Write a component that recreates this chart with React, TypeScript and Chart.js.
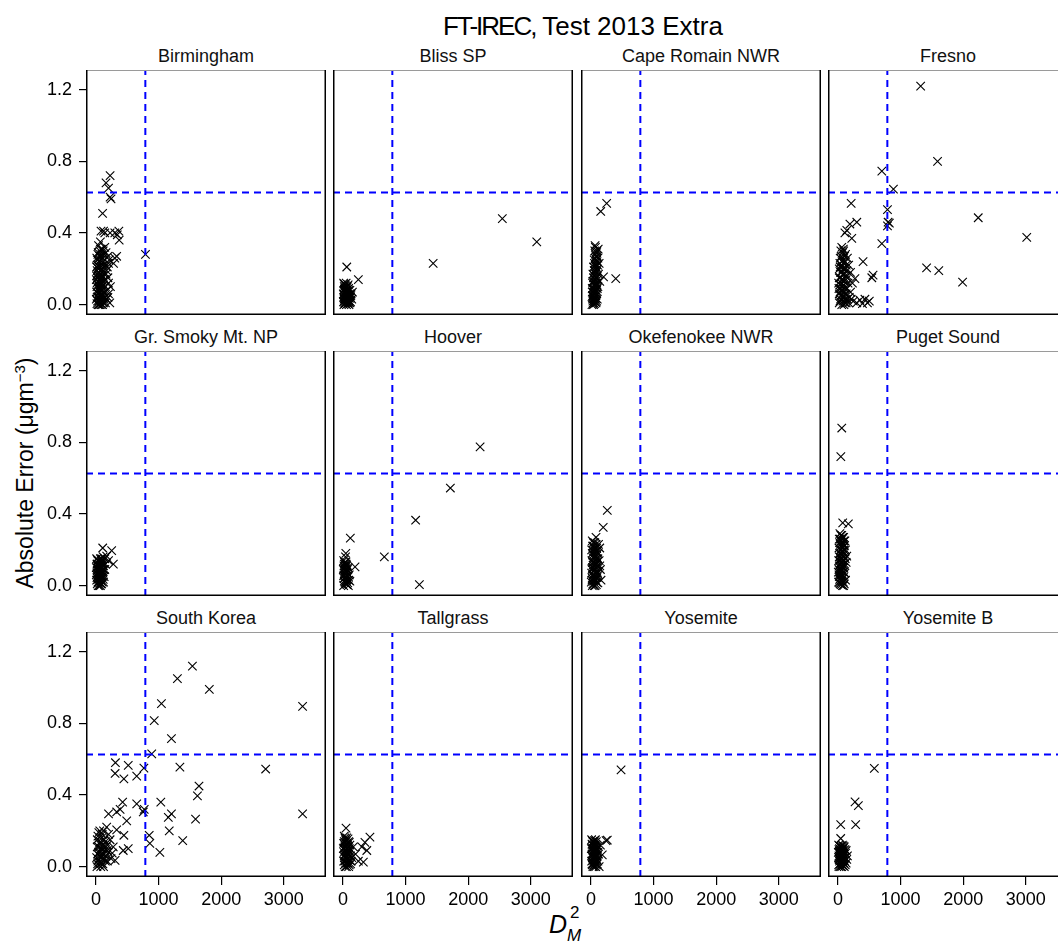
import React, { useEffect, useRef } from "react";
import { Chart, registerables } from "chart.js";

Chart.register(...registerables);

type Pt = [number, number];

// ---------------- DATA ----------------
const SITES = [
  "Birmingham", "Bliss SP", "Cape Romain NWR", "Fresno",
  "Gr. Smoky Mt. NP", "Hoover", "Okefenokee NWR", "Puget Sound",
  "South Korea", "Tallgrass", "Yosemite", "Yosemite B",
];

const X_TICKS = [0, 1000, 2000, 3000];
const Y_TICKS = [0, 0.4, 0.8, 1.2];
const X_RANGE = [-160, 3674];
const Y_RANGE = [-0.058, 1.31];
const D2_THRESHOLD = 788;
const ERROR_THRESHOLD = 0.626;

const birmingham: Pt[] = [
  [225, 0.72], [160, 0.68], [200, 0.65], [225, 0.6], [240, 0.59], [105, 0.51],
  [80, 0.41], [140, 0.4], [120, 0.41], [225, 0.4], [300, 0.4], [365, 0.41], [340, 0.39], [370, 0.36],
  [300, 0.26], [330, 0.27], [280, 0.23], [790, 0.28],
  [40, 0.33], [70, 0.35], [60, 0.3], [100, 0.31], [30, 0.28], [80, 0.27], [130, 0.28], [160, 0.29], [190, 0.27], [210, 0.25],
  [20, 0.25], [50, 0.24], [90, 0.23], [120, 0.24], [150, 0.22], [180, 0.21], [200, 0.23],
  [10, 0.21], [40, 0.2], [70, 0.19], [100, 0.2], [130, 0.18], [160, 0.17],
  [20, 0.17], [55, 0.16], [85, 0.15], [110, 0.16], [140, 0.14], [190, 0.15],
  [5, 0.14], [30, 0.13], [60, 0.12], [95, 0.12], [120, 0.11], [150, 0.1],
  [15, 0.1], [45, 0.09], [75, 0.09], [100, 0.08], [130, 0.07], [180, 0.08], [200, 0.06],
  [10, 0.07], [35, 0.06], [60, 0.05], [85, 0.05], [110, 0.04], [140, 0.04], [170, 0.03],
  [5, 0.03], [25, 0.02], [50, 0.02], [70, 0.01], [95, 0.02], [120, 0.01], [220, 0.01],
  [15, 0.005], [40, 0.0], [65, 0.03], [90, 0.06], [30, 0.045], [55, 0.075], [80, 0.11], [25, 0.15],
  [45, 0.18], [65, 0.22], [110, 0.26], [140, 0.32], [15, 0.12], [50, 0.14],
  [170, 0.19], [200, 0.12], [230, 0.1], [190, 0.04],
  [12, 0.26], [35, 0.29], [58, 0.27], [75, 0.31], [95, 0.28], [115, 0.3], [28, 0.22], [48, 0.21],
  [68, 0.25], [88, 0.2], [108, 0.22], [18, 0.19], [38, 0.16], [62, 0.17], [78, 0.14], [98, 0.16],
  [8, 0.16], [28, 0.11], [52, 0.1], [72, 0.13], [92, 0.1], [112, 0.13], [18, 0.04], [42, 0.04],
  [62, 0.07], [82, 0.08], [102, 0.05], [125, 0.03], [32, 0.0], [58, 0.0], [82, 0.0], [105, 0.0], [150, 0.01],
];

const blissSP: Pt[] = [
  [60, 0.21], [245, 0.14], [1440, 0.23], [2545, 0.48], [3095, 0.35],
  [10, 0.12], [30, 0.11], [50, 0.12], [20, 0.1], [40, 0.09], [70, 0.1], [90, 0.09], [15, 0.08],
  [35, 0.07], [55, 0.08], [80, 0.07], [110, 0.08], [130, 0.06], [5, 0.06], [25, 0.05], [45, 0.06],
  [65, 0.05], [95, 0.05], [120, 0.04], [10, 0.04], [30, 0.03], [50, 0.04], [75, 0.03], [100, 0.02],
  [140, 0.03], [20, 0.02], [40, 0.01], [60, 0.02], [85, 0.01], [15, 0.0], [35, 0.005], [55, 0.0],
  [70, 0.015], [110, 0.01], [25, 0.035], [45, 0.025], [65, 0.07], [85, 0.04], [105, 0.06],
  [30, 0.09], [50, 0.055], [8, 0.015], [150, 0.07],
  [18, 0.115], [42, 0.105], [62, 0.095], [82, 0.11], [22, 0.085], [48, 0.075], [68, 0.085], [95, 0.08],
  [12, 0.055], [38, 0.045], [58, 0.065], [78, 0.055], [100, 0.035], [125, 0.05], [18, 0.03], [42, 0.035],
  [62, 0.03], [88, 0.025], [28, 0.01], [48, 0.015], [78, 0.005], [95, 0.0], [120, 0.015],
];

const capeRomain: Pt[] = [
  [250, 0.565], [155, 0.52], [395, 0.145], [200, 0.155],
  [65, 0.33], [115, 0.31], [90, 0.29], [60, 0.3], [80, 0.27], [110, 0.26], [50, 0.25], [95, 0.24],
  [130, 0.23], [70, 0.22], [40, 0.21], [100, 0.2], [60, 0.19], [85, 0.18], [120, 0.17], [30, 0.17],
  [55, 0.16], [75, 0.15], [105, 0.14], [45, 0.13], [90, 0.12], [25, 0.12], [60, 0.11], [80, 0.1],
  [35, 0.09], [100, 0.09], [50, 0.08], [70, 0.07], [20, 0.07], [90, 0.06], [40, 0.05], [60, 0.04],
  [80, 0.035], [25, 0.03], [50, 0.02], [70, 0.015], [35, 0.01], [90, 0.02], [15, 0.0], [55, 0.005],
  [110, 0.1], [140, 0.13], [30, 0.045], [45, 0.065], [65, 0.085],
  [70, 0.32], [95, 0.3], [75, 0.28], [100, 0.27], [65, 0.26], [85, 0.25], [55, 0.23], [105, 0.22],
  [80, 0.21], [50, 0.19], [95, 0.19], [70, 0.17], [40, 0.15], [90, 0.15], [60, 0.14], [30, 0.13],
  [75, 0.12], [45, 0.11], [95, 0.11], [20, 0.09], [65, 0.1], [40, 0.07], [85, 0.08], [55, 0.06],
  [25, 0.05], [75, 0.05], [45, 0.03], [65, 0.03], [30, 0.02], [80, 0.01], [40, 0.0], [100, 0.03],
];

const fresno: Pt[] = [
  [1320, 1.22], [1590, 0.8], [700, 0.745], [885, 0.645], [790, 0.53], [800, 0.46], [820, 0.455],
  [790, 0.44], [700, 0.34], [2240, 0.485], [3015, 0.375], [1415, 0.205], [1610, 0.19], [1990, 0.125],
  [210, 0.565], [300, 0.46], [190, 0.45], [140, 0.415], [110, 0.4], [220, 0.37], [85, 0.31],
  [400, 0.24], [560, 0.165], [540, 0.15], [270, 0.145],
  [245, 0.02], [350, 0.025], [430, 0.03], [500, 0.02], [300, 0.01], [390, 0.005], [470, 0.01],
  [60, 0.32], [90, 0.3], [120, 0.28], [50, 0.27], [150, 0.26], [80, 0.25], [110, 0.24], [30, 0.23],
  [170, 0.22], [60, 0.21], [100, 0.2], [140, 0.19], [200, 0.18], [40, 0.18], [80, 0.17], [120, 0.16],
  [20, 0.15], [60, 0.14], [100, 0.13], [160, 0.12], [30, 0.11], [70, 0.1], [110, 0.09], [50, 0.08],
  [90, 0.07], [20, 0.06], [130, 0.06], [60, 0.05], [100, 0.04], [40, 0.03], [80, 0.02], [150, 0.03],
  [20, 0.01], [60, 0.0], [110, 0.01], [180, 0.04], [200, 0.07], [230, 0.12], [35, 0.21], [15, 0.09],
  [45, 0.3], [75, 0.29], [105, 0.27], [35, 0.26], [65, 0.24], [95, 0.23], [130, 0.22], [50, 0.22],
  [20, 0.2], [80, 0.2], [120, 0.2], [55, 0.18], [100, 0.17], [150, 0.16], [35, 0.15], [80, 0.14],
  [130, 0.14], [50, 0.12], [90, 0.11], [10, 0.12], [40, 0.09], [75, 0.08], [140, 0.09], [30, 0.07],
  [110, 0.06], [45, 0.05], [80, 0.04], [120, 0.03], [30, 0.02], [95, 0.0], [130, 0.01], [170, 0.01], [210, 0.03],
];

const smokyMt: Pt[] = [
  [107, 0.21], [250, 0.195], [277, 0.12], [170, 0.165], [200, 0.14],
  [10, 0.15], [40, 0.14], [70, 0.15], [100, 0.13], [20, 0.12], [55, 0.11], [85, 0.12], [120, 0.11],
  [5, 0.1], [35, 0.09], [65, 0.09], [95, 0.1], [140, 0.09], [15, 0.07], [45, 0.07], [75, 0.06],
  [110, 0.07], [25, 0.05], [55, 0.04], [90, 0.05], [130, 0.05], [10, 0.03], [40, 0.02], [70, 0.03],
  [100, 0.02], [20, 0.01], [50, 0.0], [80, 0.01], [120, 0.02], [30, 0.035], [60, 0.065], [95, 0.085],
  [150, 0.12], [140, 0.15], [115, 0.16], [85, 0.14], [30, 0.11], [60, 0.13], [5, 0.06], [75, 0.105],
  [25, 0.14], [55, 0.13], [90, 0.15], [15, 0.12], [45, 0.12], [75, 0.13], [110, 0.12], [30, 0.1],
  [60, 0.1], [85, 0.1], [120, 0.09], [20, 0.085], [50, 0.08], [80, 0.08], [105, 0.08], [35, 0.06],
  [65, 0.05], [100, 0.05], [15, 0.045], [45, 0.045], [80, 0.035], [115, 0.035], [30, 0.02], [60, 0.015],
  [90, 0.01], [35, 0.0], [70, 0.0],
];

const hoover: Pt[] = [
  [2190, 0.775], [1715, 0.545], [1160, 0.365], [660, 0.16], [1220, 0.005], [117, 0.265],
  [192, 0.105], [45, 0.18], [40, 0.16],
  [10, 0.14], [45, 0.13], [20, 0.12], [60, 0.11], [35, 0.1], [80, 0.1], [5, 0.09], [50, 0.08],
  [25, 0.07], [70, 0.07], [100, 0.06], [40, 0.05], [15, 0.04], [60, 0.04], [90, 0.03], [30, 0.02],
  [50, 0.01], [10, 0.0], [75, 0.015], [110, 0.025], [20, 0.06], [45, 0.035], [65, 0.055],
  [30, 0.085], [55, 0.115],
  [25, 0.13], [50, 0.12], [15, 0.11], [40, 0.11], [70, 0.09], [20, 0.095], [45, 0.095], [60, 0.075],
  [35, 0.065], [85, 0.05], [10, 0.055], [30, 0.045], [55, 0.025], [20, 0.025], [40, 0.015], [65, 0.005], [85, 0.0],
];

const okefenokee: Pt[] = [
  [260, 0.42], [195, 0.325], [80, 0.27], [120, 0.23], [140, 0.21],
  [20, 0.25], [60, 0.24], [40, 0.22], [90, 0.21], [10, 0.2], [70, 0.19], [110, 0.18], [30, 0.17],
  [55, 0.16], [85, 0.15], [130, 0.14], [15, 0.14], [45, 0.13], [75, 0.12], [105, 0.11], [25, 0.1],
  [60, 0.09], [95, 0.08], [150, 0.09], [10, 0.07], [40, 0.06], [80, 0.05], [120, 0.06], [20, 0.04],
  [55, 0.03], [90, 0.02], [30, 0.01], [65, 0.0], [110, 0.015], [160, 0.03], [5, 0.02], [45, 0.045],
  [75, 0.075], [35, 0.115], [100, 0.135], [65, 0.205], [140, 0.11],
  [35, 0.24], [80, 0.23], [25, 0.22], [55, 0.21], [45, 0.19], [95, 0.19], [20, 0.18], [65, 0.17],
  [90, 0.165], [35, 0.155], [70, 0.145], [110, 0.15], [25, 0.13], [60, 0.12], [90, 0.12], [45, 0.1],
  [80, 0.1], [15, 0.09], [70, 0.065], [105, 0.07], [30, 0.055], [60, 0.05], [95, 0.045], [15, 0.03],
  [40, 0.025], [75, 0.03], [50, 0.0], [85, 0.005], [20, 0.0],
];

const pugetSound: Pt[] = [
  [60, 0.88], [45, 0.72], [75, 0.35], [165, 0.345],
  [30, 0.29], [60, 0.28], [90, 0.27], [20, 0.26], [50, 0.25], [110, 0.25], [70, 0.24], [35, 0.23],
  [95, 0.22], [15, 0.21], [55, 0.2], [120, 0.2], [80, 0.19], [25, 0.18], [60, 0.17], [100, 0.16],
  [40, 0.15], [10, 0.14], [75, 0.14], [130, 0.13], [30, 0.12], [55, 0.11], [90, 0.1], [15, 0.09],
  [65, 0.08], [110, 0.07], [40, 0.06], [20, 0.05], [80, 0.04], [50, 0.03], [120, 0.03], [10, 0.02],
  [35, 0.01], [70, 0.0], [100, 0.01], [25, 0.035], [60, 0.055], [45, 0.095], [85, 0.115],
  [140, 0.165], [5, 0.075], [105, 0.225],
  [45, 0.28], [75, 0.27], [35, 0.26], [65, 0.26], [95, 0.25], [25, 0.24], [85, 0.23], [50, 0.22],
  [70, 0.21], [35, 0.2], [95, 0.2], [65, 0.19], [45, 0.18], [85, 0.17], [20, 0.16], [55, 0.155],
  [115, 0.15], [30, 0.14], [90, 0.14], [65, 0.125], [40, 0.125], [105, 0.12], [20, 0.11], [75, 0.1],
  [50, 0.085], [30, 0.075], [90, 0.075], [60, 0.065], [15, 0.06], [95, 0.05], [40, 0.04], [65, 0.025],
  [25, 0.015], [85, 0.02], [50, 0.005], [90, 0.0],
];

const southKorea: Pt[] = [
  [1540, 1.12], [1300, 1.05], [1810, 0.99], [3300, 0.895], [1045, 0.91], [930, 0.815], [1205, 0.715],
  [890, 0.63], [1340, 0.555], [2710, 0.545], [3300, 0.295], [1645, 0.45], [1620, 0.395], [1590, 0.265],
  [1035, 0.36], [1205, 0.295], [1155, 0.275], [1170, 0.2], [1385, 0.145], [1020, 0.08], [850, 0.175],
  [860, 0.13], [770, 0.32], [755, 0.305], [650, 0.35], [765, 0.55], [650, 0.505], [515, 0.565],
  [445, 0.49], [310, 0.58], [305, 0.52], [425, 0.36], [385, 0.32], [330, 0.305], [200, 0.295],
  [490, 0.255], [330, 0.205], [445, 0.175], [515, 0.1], [435, 0.09], [305, 0.035], [275, 0.11],
  [60, 0.2], [120, 0.2], [225, 0.15], [30, 0.17], [90, 0.16], [150, 0.14], [180, 0.12], [50, 0.13],
  [110, 0.12], [20, 0.11], [80, 0.1], [140, 0.09], [200, 0.08], [40, 0.08], [100, 0.07], [160, 0.06],
  [10, 0.05], [70, 0.05], [130, 0.04], [30, 0.03], [90, 0.02], [50, 0.01], [15, 0.0], [110, 0.015],
  [240, 0.045], [260, 0.075], [180, 0.03], [60, 0.06], [200, 0.18], [170, 0.22],
  [45, 0.19], [100, 0.18], [20, 0.15], [70, 0.14], [130, 0.15], [45, 0.11], [95, 0.1], [160, 0.11],
  [25, 0.07], [65, 0.08], [120, 0.07], [180, 0.09], [40, 0.04], [85, 0.05], [150, 0.03], [60, 0.025],
  [25, 0.015], [120, 0.0], [75, 0.0],
];

const tallgrass: Pt[] = [
  [48, 0.215], [430, 0.165], [350, 0.135], [300, 0.11], [380, 0.09], [325, 0.025], [245, 0.03],
  [165, 0.11], [200, 0.07],
  [20, 0.17], [60, 0.16], [40, 0.15], [90, 0.14], [10, 0.13], [70, 0.12], [110, 0.12], [30, 0.11],
  [55, 0.1], [85, 0.09], [15, 0.08], [45, 0.07], [75, 0.07], [120, 0.06], [25, 0.05], [60, 0.04],
  [95, 0.04], [10, 0.03], [40, 0.02], [80, 0.02], [130, 0.03], [20, 0.01], [55, 0.0], [100, 0.01],
  [30, 0.065], [65, 0.085], [50, 0.125], [100, 0.1], [5, 0.1], [140, 0.05],
  [30, 0.16], [80, 0.155], [50, 0.14], [20, 0.14], [100, 0.135], [60, 0.13], [40, 0.115], [90, 0.11],
  [15, 0.105], [70, 0.1], [35, 0.09], [110, 0.085], [55, 0.075], [90, 0.065], [20, 0.06], [45, 0.05],
  [75, 0.045], [110, 0.035], [30, 0.03], [60, 0.02], [90, 0.0], [35, 0.0], [120, 0.015],
];

const yosemite: Pt[] = [
  [480, 0.54], [260, 0.148], [240, 0.145], [180, 0.065], [150, 0.12],
  [10, 0.15], [40, 0.14], [70, 0.15], [25, 0.12], [55, 0.11], [90, 0.12], [5, 0.1], [35, 0.09],
  [65, 0.09], [100, 0.1], [15, 0.07], [45, 0.07], [80, 0.06], [120, 0.07], [25, 0.05], [55, 0.04],
  [95, 0.04], [10, 0.03], [40, 0.02], [70, 0.02], [110, 0.03], [20, 0.01], [50, 0.0], [85, 0.01],
  [130, 0.0], [30, 0.065], [60, 0.08], [90, 0.09], [75, 0.125], [50, 0.135],
  [25, 0.14], [55, 0.145], [85, 0.14], [15, 0.125], [40, 0.12], [65, 0.12], [105, 0.115], [20, 0.1],
  [50, 0.1], [80, 0.1], [35, 0.08], [70, 0.075], [110, 0.08], [10, 0.06], [45, 0.055], [65, 0.055],
  [95, 0.06], [30, 0.035], [60, 0.03], [85, 0.03], [15, 0.015], [45, 0.01], [75, 0.0], [100, 0.015], [30, 0.0],
];

const yosemiteB: Pt[] = [
  [580, 0.548], [272, 0.362], [325, 0.34], [282, 0.235], [43, 0.235], [43, 0.157],
  [10, 0.12], [40, 0.11], [70, 0.12], [100, 0.11], [25, 0.1], [55, 0.09], [85, 0.1], [130, 0.09],
  [5, 0.08], [35, 0.07], [65, 0.08], [95, 0.07], [150, 0.06], [15, 0.06], [45, 0.05], [75, 0.05],
  [115, 0.05], [25, 0.03], [55, 0.03], [90, 0.02], [130, 0.02], [10, 0.01], [40, 0.0], [70, 0.01],
  [100, 0.0], [140, 0.04], [30, 0.045], [60, 0.065], [80, 0.09], [20, 0.085],
  [25, 0.115], [55, 0.115], [85, 0.115], [15, 0.095], [40, 0.095], [70, 0.1], [110, 0.095], [25, 0.075],
  [50, 0.075], [80, 0.075], [120, 0.075], [10, 0.05], [35, 0.055], [60, 0.05], [95, 0.05], [20, 0.04],
  [45, 0.035], [75, 0.03], [105, 0.03], [30, 0.015], [60, 0.015], [85, 0.005], [115, 0.01], [15, 0.0], [60, 0.0],
];

const SITE_POINTS: Pt[][] = [
  birmingham, blissSP, capeRomain, fresno,
  smokyMt, hoover, okefenokee, pugetSound,
  southKorea, tallgrass, yosemite, yosemiteB,
];

// ---------------- LAYOUT ----------------
const FONT = "'Liberation Sans', Arial, Helvetica, sans-serif";
const COL_LEFT = [86, 333, 581, 828];
const ROW_TOP = [70, 351, 632];
const PANEL_W = 240;
const PANEL_H = 245;
const Y_AXIS_W = 86;
const X_AXIS_H = 40;

const panelBorder = {
  id: "panelBorder",
  afterDatasetsDraw(chart: any) {
    const { ctx, chartArea } = chart;
    const { left, top, right, bottom } = chartArea;
    ctx.save();
    ctx.strokeStyle = "#9a9a9a";
    ctx.lineWidth = 1;
    ctx.beginPath();
    ctx.moveTo(left, top + 0.5);
    ctx.lineTo(right, top + 0.5);
    ctx.stroke();
    ctx.strokeStyle = "#000";
    ctx.lineWidth = 1.5;
    ctx.beginPath();
    ctx.moveTo(left + 0.75, top);
    ctx.lineTo(left + 0.75, bottom - 0.75);
    ctx.lineTo(right - 0.75, bottom - 0.75);
    ctx.lineTo(right - 0.75, top);
    ctx.stroke();
    ctx.restore();
  },
};

function Panel({ idx }: { idx: number }) {
  const ref = useRef<HTMLCanvasElement>(null);
  const row = Math.floor(idx / 4);
  const col = idx % 4;
  const showY = col === 0;
  const showX = row === 2;
  const left = COL_LEFT[col] - (showY ? Y_AXIS_W : 0);
  const top = ROW_TOP[row];
  const w = PANEL_W + (showY ? Y_AXIS_W : 0);
  const h = PANEL_H + (showX ? X_AXIS_H : 0);

  useEffect(() => {
    const zeroPad = (s: any) => {
      s.paddingLeft = 0;
      s.paddingRight = 0;
      s.paddingTop = 0;
      s.paddingBottom = 0;
    };
    const chart = new Chart(ref.current as HTMLCanvasElement, {
      type: "scatter",
      data: {
        datasets: [
          {
            data: [
              { x: D2_THRESHOLD, y: Y_RANGE[0] },
              { x: D2_THRESHOLD, y: Y_RANGE[1] },
            ],
            showLine: true,
            borderColor: "#0000ff",
            borderWidth: 2,
            borderDash: [7, 5],
            pointRadius: 0,
          },
          {
            data: [
              { x: X_RANGE[0], y: ERROR_THRESHOLD },
              { x: X_RANGE[1], y: ERROR_THRESHOLD },
            ],
            showLine: true,
            borderColor: "#0000ff",
            borderWidth: 2,
            borderDash: [7, 5],
            pointRadius: 0,
          },
          {
            data: SITE_POINTS[idx].map(([x, y]) => ({ x, y })),
            pointStyle: "crossRot",
            pointRadius: 6,
            borderColor: "#000",
            backgroundColor: "rgba(0,0,0,0)",
            borderWidth: 1.1,
          },
        ],
      },
      options: {
        animation: false,
        responsive: false,
        events: [],
        layout: { padding: 0, autoPadding: false },
        plugins: {
          legend: { display: false },
          tooltip: { enabled: false },
          title: { display: false },
        },
        scales: {
          x: {
            type: "linear",
            min: X_RANGE[0],
            max: X_RANGE[1],
            display: showX,
            afterBuildTicks: (s: any) => {
              s.ticks = X_TICKS.map((v) => ({ value: v }));
            },
            afterFit: (s: any) => {
              s.height = showX ? X_AXIS_H : 0;
              zeroPad(s);
            },
            border: { display: false },
            grid: {
              display: true,
              drawOnChartArea: false,
              drawTicks: true,
              tickLength: 8,
              color: "#000",
              lineWidth: 1.2,
            },
            ticks: {
              autoSkip: false,
              maxRotation: 0,
              padding: 4,
              color: "#000",
              font: { family: FONT, size: 18 },
              callback: (v: any) => String(v),
            },
          },
          y: {
            type: "linear",
            min: Y_RANGE[0],
            max: Y_RANGE[1],
            display: showY,
            afterBuildTicks: (s: any) => {
              s.ticks = Y_TICKS.map((v) => ({ value: v }));
            },
            afterFit: (s: any) => {
              s.width = showY ? Y_AXIS_W : 0;
              zeroPad(s);
            },
            border: { display: false },
            grid: {
              display: true,
              drawOnChartArea: false,
              drawTicks: true,
              tickLength: 7,
              color: "#000",
              lineWidth: 1.2,
            },
            ticks: {
              autoSkip: false,
              padding: 7,
              color: "#000",
              font: { family: FONT, size: 18 },
              callback: (v: any) => Number(v).toFixed(1),
            },
          },
        },
      },
      plugins: [panelBorder],
    } as any);
    return () => chart.destroy();
  }, [idx]);

  return (
    <>
      <div
        style={{
          position: "absolute",
          left: COL_LEFT[col],
          top: top - 23,
          width: PANEL_W,
          textAlign: "center",
          fontFamily: FONT,
          fontSize: 18,
          lineHeight: "18px",
          color: "#111",
          whiteSpace: "nowrap",
        }}
      >
        {SITES[idx]}
      </div>
      <canvas
        ref={ref}
        width={w}
        height={h}
        style={{ position: "absolute", left, top, width: w, height: h, display: "block" }}
      />
    </>
  );
}

export default function App() {
  return (
    <div
      style={{
        position: "absolute",
        left: 0,
        top: 0,
        width: 1058,
        height: 943,
        overflow: "hidden",
        background: "#fff",
        fontFamily: FONT,
        color: "#000",
      }}
    >
      <div
        style={{
          position: "absolute",
          left: 383,
          top: 13,
          width: 400,
          textAlign: "center",
          fontSize: 26,
          lineHeight: "26px",
          whiteSpace: "nowrap",
        }}
      >
        <span style={{ letterSpacing: "-2px" }}>FT-IREC,</span>
        <span> Test 2013 Extra</span>
      </div>

      <div
        style={{
          position: "absolute",
          left: 25 - 200,
          top: 473 - 15,
          width: 400,
          height: 30,
          lineHeight: "30px",
          textAlign: "center",
          fontSize: 23,
          transform: "rotate(-90deg)",
          whiteSpace: "nowrap",
        }}
      >
        Absolute Error (μgm
        <sup style={{ fontSize: 15, verticalAlign: "8px", lineHeight: 0 }}>−3</sup>)
      </div>

      <span
        style={{
          position: "absolute",
          left: 549,
          top: 912,
          fontSize: 25,
          lineHeight: "25px",
          fontStyle: "italic",
        }}
      >
        D
      </span>
      <span style={{ position: "absolute", left: 570, top: 904, fontSize: 17, lineHeight: "17px" }}>2</span>
      <span
        style={{
          position: "absolute",
          left: 567,
          top: 927,
          fontSize: 17,
          lineHeight: "17px",
          fontStyle: "italic",
        }}
      >
        M
      </span>

      {SITES.map((_, i) => (
        <Panel key={i} idx={i} />
      ))}
    </div>
  );
}
